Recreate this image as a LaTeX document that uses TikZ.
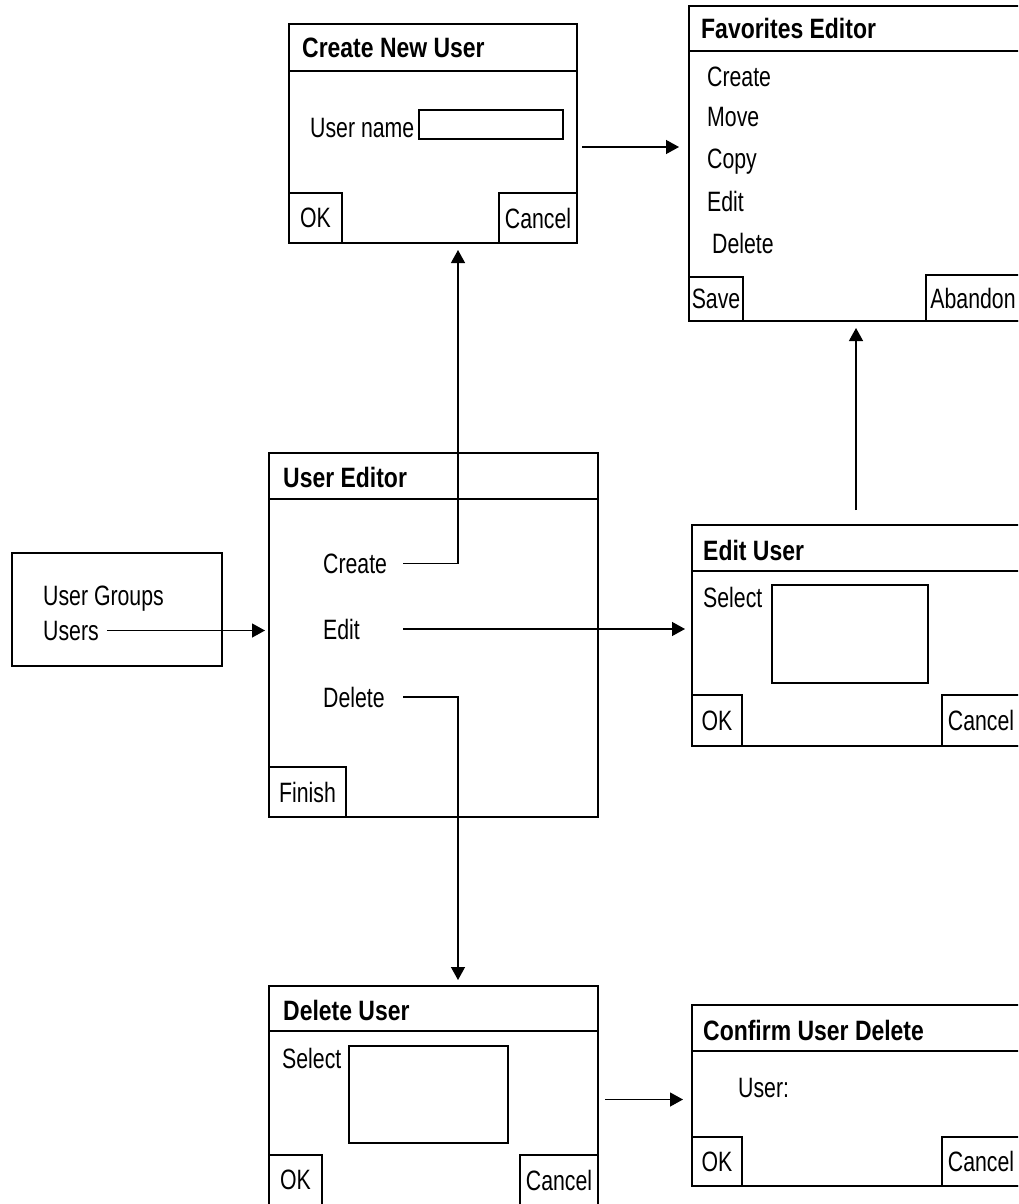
\documentclass[tikz,border=0pt]{standalone}
\usepackage{fontspec}
\setmainfont[FakeStretch=0.76]{Liberation Sans}
\newfontfamily\ttlfont[FakeStretch=0.82]{Liberation Sans}
\usetikzlibrary{arrows.meta}
\tikzset{
  win/.style={draw, line width=1.3pt, inner sep=0pt, outer sep=0pt, anchor=north west},
  btn/.style={draw, line width=1.3pt, inner sep=0pt, outer sep=0pt, font=\fontsize{28pt}{30pt}\selectfont},
  field/.style={draw, line width=1.3pt, inner sep=0pt, outer sep=0pt, anchor=north west},
  txt/.style={anchor=base west, inner sep=0pt, font=\fontsize{28pt}{30pt}\selectfont},
  ttl/.style={anchor=base west, inner sep=0pt, font=\fontsize{28pt}{30pt}\ttlfont\bfseries},
  sep/.style={line width=1.3pt},
  arr/.style={line width=1.3pt, -{Triangle[length=13pt,width=14pt]}}
}
\begin{document}
\begin{tikzpicture}[x=1pt, y=-1pt]
    \useasboundingbox (0,0) rectangle (1018,1204);
    \clip (0,0) rectangle (1018,1204);
    % Create New User
    \node[win, minimum width=288pt, minimum height=219pt] (newuser) at (289,24) {};
    \draw[sep] ([yshift=-47pt]newuser.north west) -- ([yshift=-47pt]newuser.north east);
    \node[ttl] (nu-title) at (302,58) {Create New User};
    \node[txt] (nu-label) at (310,137) {User name};
    \node[field, minimum width=144pt, minimum height=29pt] (nu-name) at (419,110) {};
    \node[btn, anchor=south west, minimum width=53pt, minimum height=50pt] (nu-ok) at (newuser.south west) {OK};
    \node[btn, anchor=south east, minimum width=78pt, minimum height=50pt] (nu-cancel) at (newuser.south east) {Cancel};
    % Favorites Editor
    \node[win, minimum width=331pt, minimum height=315pt] (fav) at (689,6) {};
    \draw[sep] ([yshift=-45pt]fav.north west) -- ([yshift=-45pt]fav.north east);
    \node[ttl] (fav-title) at (701,39) {Favorites Editor};
    \node[txt] (fav-create) at (707,87) {Create};
    \node[txt] (fav-move) at (707,127) {Move};
    \node[txt] (fav-copy) at (707,168) {Copy};
    \node[txt] (fav-edit) at (707,211) {Edit};
    \node[txt] (fav-delete) at (712,253) {Delete};
    \node[btn, anchor=south west, minimum width=54pt, minimum height=44pt] (fav-save) at (fav.south west) {Save};
    \node[btn, anchor=south east, minimum width=94pt, minimum height=46pt] (fav-abandon) at (fav.south east) {Abandon};
    % User Groups / Users
    \node[win, minimum width=210pt, minimum height=113pt] (groups) at (12,553) {};
    \node[txt] (g-groups) at (43,605) {User Groups};
    \node[txt] (g-users) at (43,640) {Users};
    % User Editor
    \node[win, minimum width=329pt, minimum height=364pt] (usered) at (269,453) {};
    \draw[sep] ([yshift=-46pt]usered.north west) -- ([yshift=-46pt]usered.north east);
    \node[ttl] (ue-title) at (283,487) {User Editor};
    \node[txt] (ue-create) at (323,573) {Create};
    \node[txt] (ue-edit) at (323,639) {Edit};
    \node[txt] (ue-delete) at (323,707) {Delete};
    \node[btn, anchor=south west, minimum width=77pt, minimum height=50pt] (ue-finish) at (usered.south west) {Finish};
    % Edit User
    \node[win, minimum width=328pt, minimum height=221pt] (edituser) at (692,525) {};
    \draw[sep] ([yshift=-46pt]edituser.north west) -- ([yshift=-46pt]edituser.north east);
    \node[ttl] (eu-title) at (703,560) {Edit User};
    \node[txt] (eu-select) at (703,607) {Select};
    \node[field, minimum width=156pt, minimum height=98pt] (eu-list) at (772,585) {};
    \node[btn, anchor=south west, minimum width=50pt, minimum height=51pt] (eu-ok) at (edituser.south west) {OK};
    \node[btn, anchor=south east, minimum width=78pt, minimum height=51pt] (eu-cancel) at (edituser.south east) {Cancel};
    % Delete User
    \node[win, minimum width=329pt, minimum height=219pt] (deluser) at (269,986) {};
    \draw[sep] ([yshift=-45pt]deluser.north west) -- ([yshift=-45pt]deluser.north east);
    \node[ttl] (du-title) at (283,1020) {Delete User};
    \node[txt] (du-select) at (282,1068) {Select};
    \node[field, minimum width=159pt, minimum height=97pt] (du-list) at (349,1046) {};
    \node[btn, anchor=south west, minimum width=53pt, minimum height=50pt] (du-ok) at (deluser.south west) {OK};
    \node[btn, anchor=south east, minimum width=78pt, minimum height=50pt] (du-cancel) at (deluser.south east) {Cancel};
    % Confirm User Delete
    \node[win, minimum width=328pt, minimum height=181pt] (confirm) at (692,1005) {};
    \draw[sep] ([yshift=-46pt]confirm.north west) -- ([yshift=-46pt]confirm.north east);
    \node[ttl] (cd-title) at (703,1040) {Confirm User Delete};
    \node[txt] (cd-user) at (738,1097) {User:};
    \node[btn, anchor=south west, minimum width=50pt, minimum height=49pt] (cd-ok) at (confirm.south west) {OK};
    \node[btn, anchor=south east, minimum width=78pt, minimum height=49pt] (cd-cancel) at (confirm.south east) {Cancel};
    % connectors
    \coordinate (stub) at (403,0);
    \coordinate (spine) at (458,0);
    \coordinate (nu-out) at ([yshift=-13.5pt]newuser.east);
    \coordinate (du-out) at ([yshift=-4pt]deluser.east);
    \draw[arr, shorten <=8pt, shorten >=4pt] (g-users.east) -- (g-users -| usered.west);
    \draw[arr, shorten >=7pt] (stub |- ue-create) -| (spine |- newuser.south);
    \draw[arr, shorten >=7pt] (stub |- ue-edit) -- (ue-edit -| edituser.west);
    \draw[arr, shorten >=6pt] (stub |- ue-delete) -| (spine |- deluser.north);
    \draw[arr, shorten <=5pt, shorten >=10pt] (nu-out) -- (nu-out -| fav.west);
    \draw[arr, shorten <=15pt, shorten >=7pt] (edituser.north) -- (edituser.north |- fav.south);
    \draw[arr, shorten <=7pt, shorten >=9pt] (du-out) -- (du-out -| confirm.west);
\end{tikzpicture}
\end{document}
